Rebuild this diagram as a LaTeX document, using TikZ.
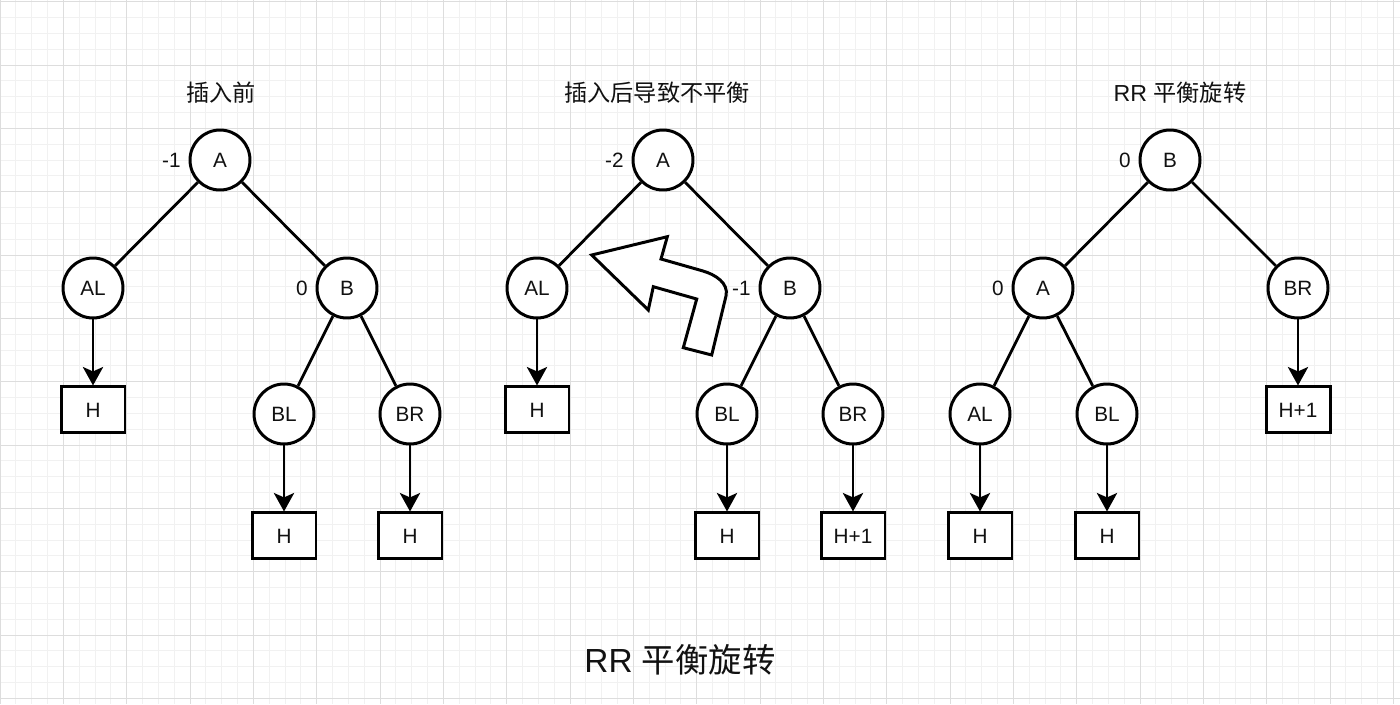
\documentclass[tikz,border=0pt]{standalone}
\usepackage{fontspec}
\setmainfont{Liberation Sans}
\newfontfamily\cjk{Noto Sans CJK SC}
\usetikzlibrary{positioning, arrows.meta}
\definecolor{gMinor}{HTML}{F1F1F1}
\definecolor{gMajor}{HTML}{DDDDDD}
\definecolor{tInk}{HTML}{111111}

\begin{document}
\begin{tikzpicture}[x=0.02cm, y=-0.02cm, >=Stealth,
      treenode/.style={circle, draw=black, line width=1.7pt, fill=white, text=tInk,
        minimum size=1.2cm, inner sep=0pt, font=\fontsize{11.8}{14}\selectfont},
      hbox/.style={rectangle, draw=black, line width=1.7pt, fill=white, text=tInk,
        minimum width=1.28cm, minimum height=0.92cm, inner sep=0pt, font=\fontsize{11.8}{14}\selectfont},
      bal/.style={inner sep=0pt, text=tInk, font=\fontsize{11.8}{14}\selectfont},
      title/.style={text=tInk, font=\fontsize{13.2}{16}\selectfont},
      edge/.style={line width=1.6pt},
      arrow/.style={-{Stealth[length=10.5pt, width=11.5pt, inset=2.5pt]}, line width=1.6pt}]
      % background and grid
      \fill[white] (0,0) rectangle (1400,704);
      \useasboundingbox (0,0) rectangle (1400,704);
      \foreach \i in {0,...,88}
        \draw[gMinor, line width=0.5pt] (\i*15.833,0) -- (\i*15.833,704);
      \foreach \j in {0,...,44}
        \draw[gMinor, line width=0.5pt] (0,1.7+\j*15.833) -- (1400,1.7+\j*15.833);
      \foreach \i in {0,...,22}
        \draw[gMajor, line width=0.5pt] (\i*63.33,0) -- (\i*63.33,704);
      \foreach \j in {0,...,11}
        \draw[gMajor, line width=0.5pt] (0,1.7+\j*63.33) -- (1400,1.7+\j*63.33);

      % before insertion
      \node[title] (t1) at (221,93) {\cjk 插入前};
      \node[treenode] (A1) at (220,160) {A};
      \node[bal, left=0.15cm of A1] {-1};
      \node[treenode] (AL1) at (93,288) {AL};
      \node[treenode] (B1) at (347,288) {B};
      \node[bal, left=0.15cm of B1] {0};
      \node[treenode] (BL1) at (284,414) {BL};
      \node[treenode] (BR1) at (410,414) {BR};
      \node[hbox, below=1.32cm of AL1] (HAL1) {H};
      \node[hbox, below=1.32cm of BL1] (HBL1) {H};
      \node[hbox, below=1.32cm of BR1] (HBR1) {H};
      \draw[edge] (A1) -- (AL1);
      \draw[edge] (A1) -- (B1);
      \draw[edge] (B1) -- (BL1);
      \draw[edge] (B1) -- (BR1);
      \draw[arrow] (AL1) -- (HAL1);
      \draw[arrow] (BL1) -- (HBL1);
      \draw[arrow] (BR1) -- (HBR1);

      % after insertion, unbalanced
      \node[title] (t2) at (657,93) {\cjk 插入后导致不平衡};
      \node[treenode] (A2) at (663,160) {A};
      \node[bal, left=0.15cm of A2] {-2};
      \node[treenode] (AL2) at (537,288) {AL};
      \node[treenode] (B2) at (790,288) {B};
      \node[bal, left=0.15cm of B2] {-1};
      \node[treenode] (BL2) at (727,414) {BL};
      \node[treenode] (BR2) at (853,414) {BR};
      \node[hbox, below=1.32cm of AL2] (HAL2) {H};
      \node[hbox, below=1.32cm of BL2] (HBL2) {H};
      \node[hbox, below=1.32cm of BR2] (HBR2) {H+1};
      \draw[edge] (A2) -- (AL2);
      \draw[edge] (A2) -- (B2);
      \draw[edge] (B2) -- (BL2);
      \draw[edge] (B2) -- (BR2);
      \draw[arrow] (AL2) -- (HAL2);
      \draw[arrow] (BL2) -- (HBL2);
      \draw[arrow] (BR2) -- (HBR2);
      % rotation arrow
      \draw[line width=1.7pt, fill=white, line join=miter]
        (591.7,255) -- (667.3,236.7) -- (661,259) -- (703,271)
        .. controls (715,274.5) and (729,283) .. (726,296)
        -- (711.7,355) -- (683.3,347.7) -- (696.7,299) -- (653.3,286.7)
        -- (648.3,310) -- cycle;

      % RR rotation
      \node[title] (t3) at (1180,93) {RR {\cjk 平衡旋转}};
      \node[treenode] (B3) at (1170,160) {B};
      \node[bal, left=0.15cm of B3] {0};
      \node[treenode] (A3) at (1043,288) {A};
      \node[bal, left=0.15cm of A3] {0};
      \node[treenode] (BR3) at (1298,288) {BR};
      \node[treenode] (AL3) at (980,414) {AL};
      \node[treenode] (BL3) at (1107,414) {BL};
      \node[hbox, below=1.32cm of AL3] (HAL3) {H};
      \node[hbox, below=1.32cm of BL3] (HBL3) {H};
      \node[hbox, below=1.32cm of BR3] (HBR3) {H+1};
      \draw[edge] (B3) -- (A3);
      \draw[edge] (B3) -- (BR3);
      \draw[edge] (A3) -- (AL3);
      \draw[edge] (A3) -- (BL3);
      \draw[arrow] (AL3) -- (HAL3);
      \draw[arrow] (BL3) -- (HBL3);
      \draw[arrow] (BR3) -- (HBR3);

      \node[text=tInk, font=\fontsize{19}{22}\selectfont] (cap) at (680,660) {RR {\cjk 平衡旋转}};
    \end{tikzpicture}
\end{document}
